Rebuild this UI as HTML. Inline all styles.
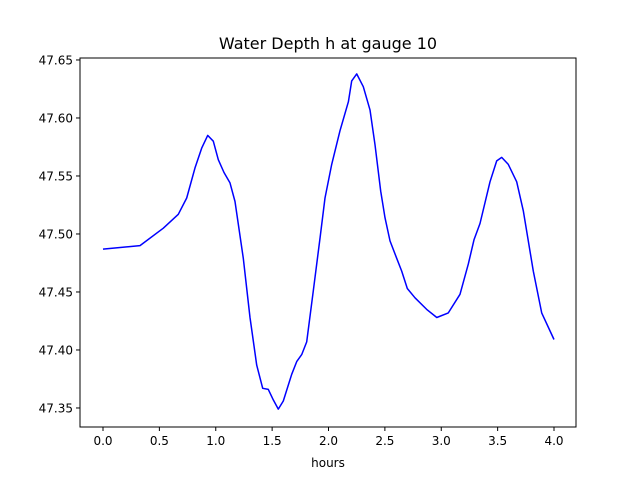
<!DOCTYPE html>
<html><head><meta charset="utf-8"><style>
body{margin:0;background:#fff}
svg text{font-family:"DejaVu Sans","Liberation Sans",sans-serif;fill:#000}
</style></head><body>
<svg width="640" height="480" viewBox="0 0 640 480">
<rect width="640" height="480" fill="#fff"/>
<text x="328" y="49" font-size="16" text-anchor="middle">Water Depth h at gauge 10</text>
<g id="plot"></g>
<text x="328" y="467" font-size="12" text-anchor="middle">hours</text>
</svg>
<script>
const hours=[0.0,0.328,0.535,0.668,0.742,0.816,0.875,0.929,0.978,1.023,1.073,1.126,1.171,1.244,1.304,1.363,1.416,1.466,1.510,1.555,1.599,1.674,1.718,1.762,1.807,1.865,1.925,1.969,2.028,2.102,2.176,2.206,2.250,2.309,2.368,2.412,2.463,2.501,2.545,2.605,2.649,2.699,2.767,2.871,2.960,3.062,3.166,3.240,3.290,3.344,3.432,3.492,3.536,3.595,3.669,3.728,3.816,3.891,4.0];
const depth=[47.487,47.490,47.505,47.517,47.531,47.557,47.574,47.585,47.580,47.564,47.553,47.544,47.528,47.479,47.428,47.387,47.367,47.366,47.357,47.349,47.356,47.379,47.390,47.396,47.407,47.451,47.497,47.531,47.560,47.589,47.614,47.632,47.638,47.627,47.607,47.577,47.537,47.514,47.494,47.479,47.468,47.453,47.445,47.435,47.428,47.432,47.448,47.474,47.495,47.509,47.545,47.563,47.566,47.560,47.545,47.520,47.468,47.432,47.409];
const xTicks=[0,0.5,1,1.5,2,2.5,3,3.5,4];
const xTickLabels=["0.0","0.5","1.0","1.5","2.0","2.5","3.0","3.5","4.0"];
const yTicks=[47.35,47.40,47.45,47.50,47.55,47.60,47.65];
const yTickLabels=["47.35","47.40","47.45","47.50","47.55","47.60","47.65"];
const L=80,R=576,T=58,B=427;
const xMin=-0.204,xMax=4.195,yMin=47.3336,yMax=47.6517;
const xs=v=>L+(v-xMin)/(xMax-xMin)*(R-L);
const ys=v=>B-(v-yMin)/(yMax-yMin)*(B-T);
const NS="http://www.w3.org/2000/svg";
const g=document.getElementById('plot');
function mk(t,a){const e=document.createElementNS(NS,t);for(const k in a)e.setAttribute(k,a[k]);g.appendChild(e);return e;}
const d=hours.map((h,i)=>(i?'L':'M')+xs(h).toFixed(1)+','+ys(depth[i]).toFixed(1)).join('');
const line=mk('path',{d:d,fill:'none',stroke:'#0000ff','stroke-width':1.5,'stroke-linejoin':'round'});


const frame=mk('rect',{x:L,y:T,width:R-L,height:B-T,fill:'none',stroke:'#000','stroke-width':1});


xTicks.forEach((v,i)=>{
 const x=xs(v);
 const tk=mk('line',{x1:x,x2:x,y1:B,y2:B+4,stroke:'#000'});
 
 
 const t=mk('text',{x:x,y:B+18,'font-size':12,'text-anchor':'middle'});
 t.textContent=xTickLabels[i];
 
 
});
yTicks.forEach((v,i)=>{
 const y=ys(v);
 const tk=mk('line',{x1:L-4,x2:L,y1:y,y2:y,stroke:'#000'});
 
 
 const t=mk('text',{x:L-7,y:y+4.5,'font-size':12,'text-anchor':'end'});
 t.textContent=yTickLabels[i];
 
 
});
</script>
</body></html>
